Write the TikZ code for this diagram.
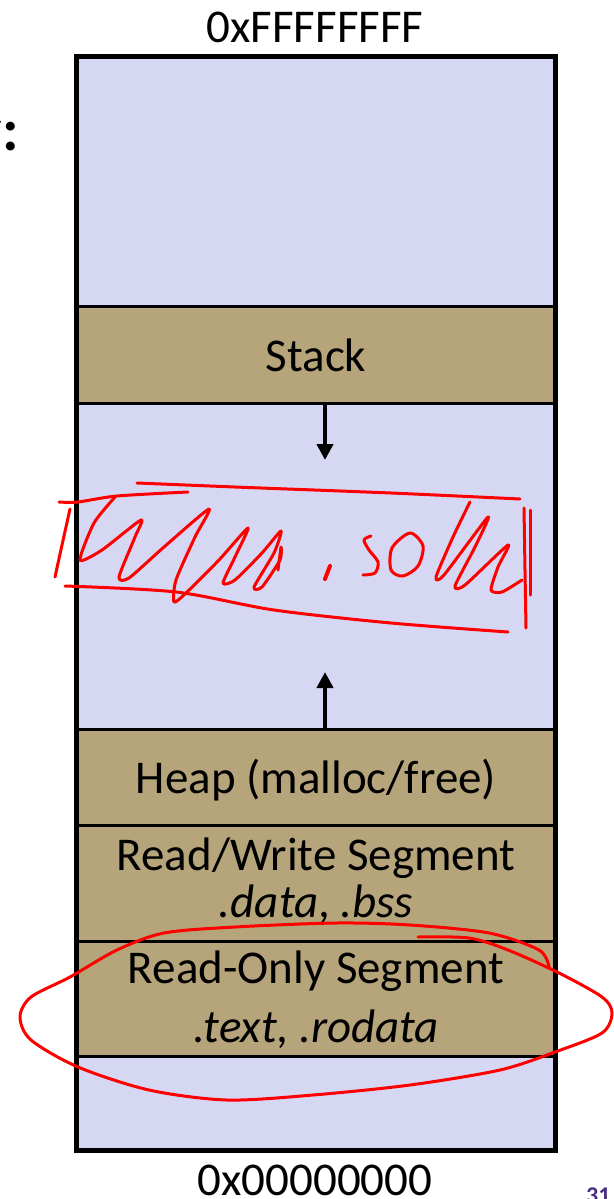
\documentclass[tikz,border=0pt]{standalone}
\usepackage{fontspec}
\setmainfont{Carlito}
\usetikzlibrary{arrows.meta}
\definecolor{freeblue}{RGB}{214,215,243}
\definecolor{segtan}{RGB}{182,165,122}
\definecolor{slidepurple}{RGB}{75,46,131}

\begin{document}
\begin{tikzpicture}[x=1pt,y=-1pt,
  band/.style={draw,line width=3pt,fill=segtan,minimum width=479.5pt,inner sep=0pt,anchor=north},
  lbl/.style={font=\fontsize{47}{56}\selectfont,anchor=base,inner sep=0pt},
  growarrow/.style={-{Triangle[length=16pt,width=16pt]},line width=4pt},
  pen/.style={red,line width=3pt,line cap=round,line join=round}]
  \useasboundingbox (0,0) rectangle (613,1199);
  \fill[freeblue] (76,57) rectangle (555.5,1150);
  \node[band,minimum height=97pt]  (stack) at (315.75,305) {};
  \node[band,minimum height=96pt]  (heap)  at (315.75,728) {};
  \node[band,minimum height=116pt] (rw)    at (315.75,824) {};
  \node[band,minimum height=115pt] (ro)    at (315.75,940) {};
  \coordinate (stackend) at (325,460);
  \coordinate (heapend)  at (325,672);
  \draw[growarrow] ([xshift=9.25pt]stack.south) -- (stackend);
  \draw[growarrow] ([xshift=9.25pt]heap.north) -- (heapend);
  \draw[line width=5pt] (76,57) rectangle (555.5,1150);
%%%
  \node[lbl] (top)    at (315,43)   {0xFFFFFFFF};
  \node[lbl] (bottom) at (315,1195) {0x00000000};
  \node[lbl] (stacktxt) at (316,371)  {Stack};
  \node[lbl] (heaptxt)  at (316,793)  {Heap (malloc/free)};
  \node[lbl] (rwtxt)    at (316,870)  {Read/Write Segment};
  \node[lbl] (rwsec)    at (316,917)  {\textit{.data}, \textit{.bss}};
  \node[lbl] (rotxt)    at (316,983)  {Read-Only Segment};
  \node[lbl] (rosec)    at (316,1042) {\textit{.text}, \textit{.rodata}};
  \node[font=\bfseries\fontsize{60}{70}\selectfont,anchor=base east,inner sep=0pt] (title) at (19,150) {y:};
  \node[font=\bfseries\fontsize{24}{28}\selectfont,color=slidepurple,anchor=base west,inner sep=0pt] (page) at (586,1203) {31};
%%% pen notes
  \draw[pen] plot[smooth] coordinates {(137,483) (235,487) (391,493) (520,499)};
  \draw[pen] plot[smooth] coordinates {(59,502) (78,502) (117,496) (188,492)};
  \draw[pen] plot[smooth] coordinates {(70,509) (62,545) (55,577)};
  \draw[pen] plot[smooth] coordinates {(65,586) (176,592) (274,610) (391,623) (508,632)};
  \draw[pen] plot[smooth] coordinates {(524,508) (525,570) (526,628)};
  \draw[pen] plot[smooth] coordinates {(530,510) (530,595)};
  \draw[pen] plot[smooth,tension=0.4] coordinates {(115,497) (94,523) (80,560) (102,550) (141,520) (135,537) (119,577) (129,578) (164,547) (209,509) (195,537) (176,580) (174,602) (186,593) (219,560) (248,528) (235,557) (223,583) (235,580) (262,553) (281,531) (274,553) (254,587) (262,587) (280,560) (281,547) (278,570)};
  \draw[pen,line width=4pt] (330,566) -- (325,579);
  \draw[pen] plot[smooth] coordinates {(371,536) (364,540) (369,550) (378,562) (375,573) (363,575)};
  \draw[pen] plot[smooth cycle] coordinates {(410,533) (392,548) (391,570) (403,576) (418,566) (423,546)};
  \draw[pen] plot[smooth,tension=0.4] coordinates {(470,502) (453,537) (436,577) (444,575) (488,517) (475,547) (455,586) (465,585) (508,545) (498,567) (491,590) (502,592) (522,580)};
  \draw[pen] plot[smooth] coordinates {(418,937) (469,938) (508,950) (559,973) (602,997) (612,1013) (602,1033) (555,1052) (500,1070) (410,1085) (313,1095) (227,1100) (149,1090) (78,1067) (31,1040) (20,1017) (31,997) (70,977) (117,950) (164,933) (235,927) (336,923) (410,925) (489,933) (539,950) (549,967)};
\end{tikzpicture}
\end{document}
